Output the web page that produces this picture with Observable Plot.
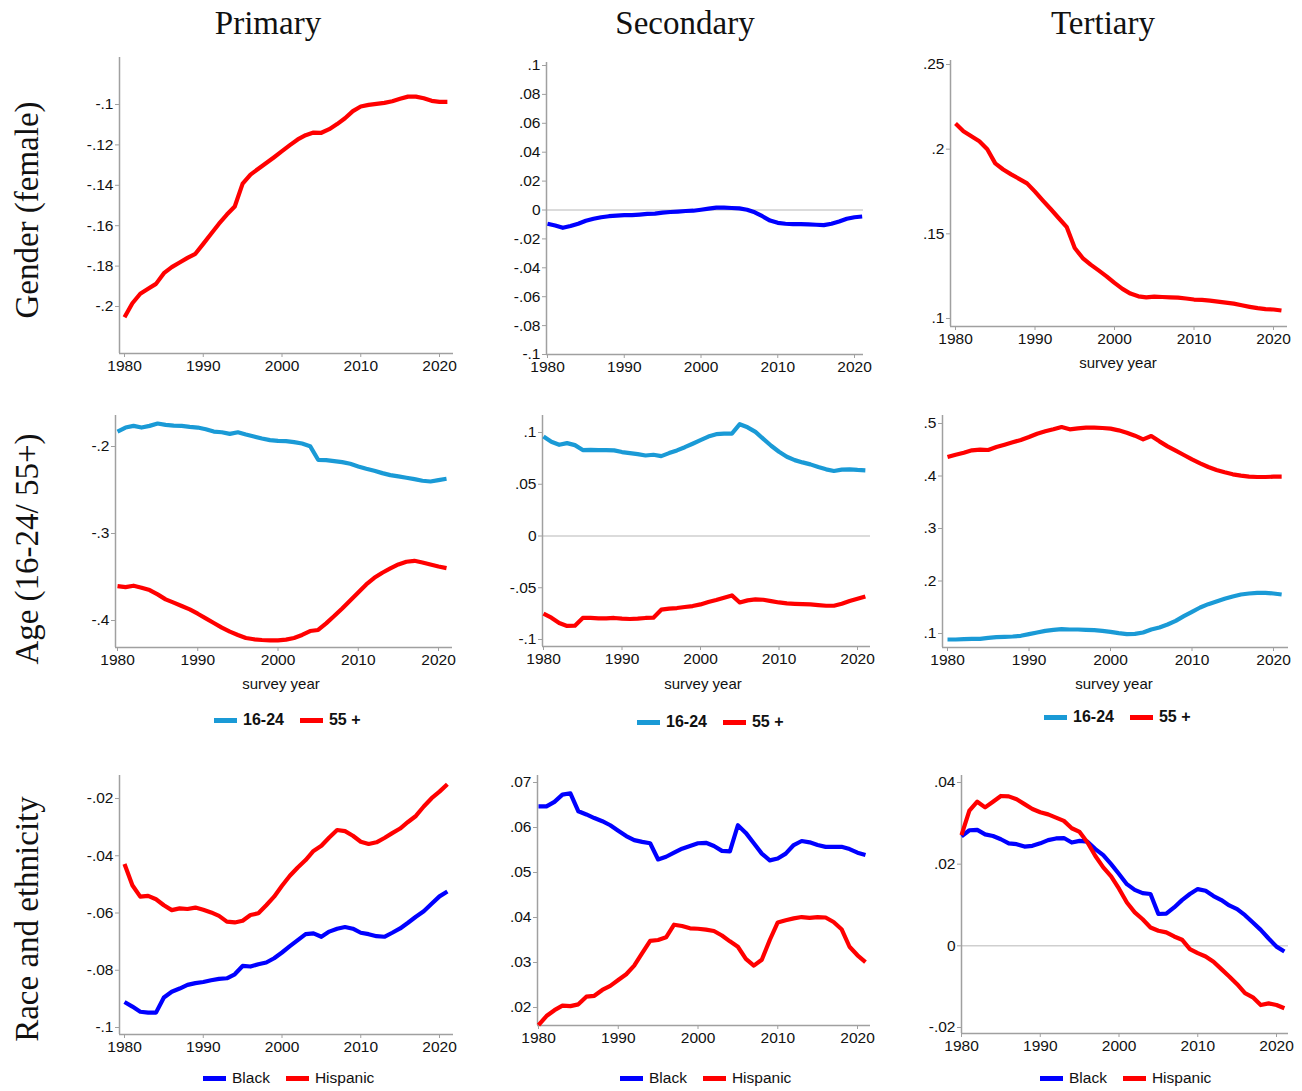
<!DOCTYPE html>
<html><head><meta charset="utf-8">
<script src="https://cdn.jsdelivr.net/npm/d3@7"></script>
<script src="https://cdn.jsdelivr.net/npm/@observablehq/plot@0.6"></script>
<style>
body{margin:0;background:#fff;}
#root{position:relative;width:1302px;height:1091px;overflow:hidden;background:#fff;}
.abs{position:absolute;}
.coltitle{font-family:"Liberation Serif",serif;font-size:33px;color:#111;transform:translateX(-50%);white-space:nowrap;line-height:1;}
.rowtitle{font-family:"Liberation Serif",serif;font-size:33px;color:#111;transform:translate(-50%,-50%) rotate(-90deg);white-space:nowrap;line-height:1;}
.xlab{font-family:"Liberation Sans",sans-serif;font-size:15px;color:#111;transform:translate(-50%,-50%);white-space:nowrap;}
.legend{display:flex;align-items:center;transform:translateY(-50%);white-space:nowrap;font-family:"Liberation Sans",sans-serif;color:#111;}
.legend .sw{display:inline-block;width:23px;height:5px;margin-right:6px;}
.legend .it{display:flex;align-items:center;margin-right:16px;}
.legend.bold{font-weight:bold;font-size:16px;}
.legend.reg{font-size:15.5px;}
</style></head><body><div id="root"></div>
<script>
// ---------- data ----------
const years = [1980,1981,1982,1983,1984,1985,1986,1987,1988,1989,1990,1991,1992,1993,1994,1995,1996,1997,1998,1999,2000,2001,2002,2003,2004,2005,2006,2007,2008,2009,2010,2011,2012,2013,2014,2015,2016,2017,2018,2019,2020,2021];
const columns = ["Primary","Secondary","Tertiary"];
const rows = ["Gender (female)","Age (16-24/ 55+)","Race and ethnicity"];
const xLabel = "survey year";
const yearTicks = [1980,1990,2000,2010,2020];

const genderPrimary = [-0.2053,-0.1984,-0.1937,-0.1912,-0.1888,-0.1835,-0.1805,-0.1782,-0.1759,-0.1739,-0.169,-0.164,-0.159,-0.1545,-0.1505,-0.1392,-0.1347,-0.1318,-0.129,-0.1261,-0.1231,-0.1201,-0.1173,-0.1152,-0.1139,-0.114,-0.1122,-0.1097,-0.1068,-0.1033,-0.101,-0.1002,-0.0997,-0.0992,-0.0984,-0.0972,-0.0961,-0.0961,-0.0969,-0.0982,-0.0987,-0.0987];
const genderSecondary = [-0.0095,-0.0107,-0.0123,-0.0111,-0.0095,-0.0075,-0.0061,-0.005,-0.0043,-0.0039,-0.0036,-0.0036,-0.0032,-0.0027,-0.0025,-0.0018,-0.0014,-0.0011,-0.0007,-0.0005,0.0002,0.0009,0.0016,0.0016,0.0014,0.0011,0.0002,-0.0016,-0.0043,-0.0073,-0.0089,-0.0095,-0.0098,-0.0098,-0.01,-0.0102,-0.0105,-0.0095,-0.008,-0.0061,-0.005,-0.0045];
const genderTertiary = [0.2151,0.2106,0.2076,0.2047,0.2,0.1916,0.188,0.1851,0.1825,0.1798,0.1749,0.1696,0.1645,0.1592,0.1539,0.1416,0.1357,0.1318,0.1284,0.1249,0.121,0.1175,0.1147,0.1131,0.1125,0.1129,0.1127,0.1125,0.1123,0.1118,0.1112,0.111,0.1106,0.11,0.1094,0.1088,0.1078,0.1069,0.1061,0.1055,0.1053,0.1047];

const agePrimaryYoung = [-0.1828,-0.1782,-0.1763,-0.1782,-0.1763,-0.1736,-0.1751,-0.1759,-0.1763,-0.1774,-0.1782,-0.1801,-0.1828,-0.1836,-0.1855,-0.1836,-0.1862,-0.1885,-0.1908,-0.1927,-0.1935,-0.1939,-0.195,-0.1966,-0.1996,-0.2153,-0.2157,-0.2168,-0.218,-0.2199,-0.2229,-0.2256,-0.2279,-0.2306,-0.2329,-0.2344,-0.2359,-0.2375,-0.2394,-0.2402,-0.2386,-0.2371];
const agePrimaryOld = [-0.3604,-0.3616,-0.36,-0.3623,-0.365,-0.37,-0.3757,-0.3795,-0.3834,-0.3872,-0.3922,-0.3975,-0.4029,-0.4082,-0.4128,-0.4166,-0.4201,-0.4216,-0.4224,-0.4228,-0.4228,-0.422,-0.4201,-0.4166,-0.4121,-0.4109,-0.4033,-0.3949,-0.3861,-0.3769,-0.3677,-0.3585,-0.3509,-0.3451,-0.3402,-0.3356,-0.3325,-0.3314,-0.3333,-0.3356,-0.3379,-0.3398];
const ageSecondaryYoung = [0.0961,0.091,0.0881,0.0897,0.0878,0.083,0.0833,0.083,0.083,0.0827,0.0811,0.0801,0.0791,0.0778,0.0785,0.0772,0.0801,0.0827,0.0858,0.0891,0.0926,0.0961,0.0984,0.099,0.099,0.108,0.105,0.1006,0.0939,0.0872,0.0814,0.0766,0.0733,0.0711,0.0692,0.0666,0.0644,0.0628,0.0641,0.0644,0.0638,0.0634];
const ageSecondaryOld = [-0.075,-0.0789,-0.0841,-0.0869,-0.0866,-0.0792,-0.0792,-0.0795,-0.0795,-0.0792,-0.0798,-0.0802,-0.0798,-0.0792,-0.0789,-0.0712,-0.0702,-0.0696,-0.0686,-0.0677,-0.0661,-0.0638,-0.0619,-0.0597,-0.0574,-0.0642,-0.0622,-0.0613,-0.0616,-0.0629,-0.0642,-0.0651,-0.0655,-0.0658,-0.0661,-0.0668,-0.0674,-0.0674,-0.0655,-0.0629,-0.0607,-0.0584];
const ageTertiaryYoung = [0.0886,0.0886,0.0892,0.0898,0.0898,0.0917,0.093,0.0937,0.0943,0.0956,0.0987,0.1019,0.1051,0.107,0.1083,0.1076,0.1076,0.107,0.1063,0.1051,0.1032,0.1006,0.0987,0.0994,0.1019,0.1076,0.1114,0.1171,0.1241,0.133,0.1413,0.1495,0.1559,0.161,0.166,0.1705,0.1743,0.1762,0.1775,0.1775,0.1762,0.1743];
const ageTertiaryOld = [0.4362,0.4406,0.4444,0.4489,0.4502,0.4495,0.4552,0.4597,0.4641,0.4686,0.4743,0.4806,0.4851,0.4889,0.4933,0.4889,0.4908,0.4921,0.4921,0.4914,0.4902,0.487,0.4825,0.4768,0.4698,0.4762,0.466,0.4565,0.4483,0.44,0.4317,0.4241,0.4171,0.4114,0.407,0.4032,0.4006,0.3987,0.3981,0.3981,0.3987,0.3987];

const racePrimaryBlack = [-0.0911,-0.0927,-0.0945,-0.0948,-0.0948,-0.0895,-0.0875,-0.0864,-0.0851,-0.0845,-0.0841,-0.0835,-0.083,-0.0828,-0.0814,-0.0785,-0.0787,-0.0779,-0.0773,-0.0758,-0.0738,-0.0716,-0.0695,-0.0674,-0.0671,-0.0683,-0.0665,-0.0655,-0.0649,-0.0655,-0.0669,-0.0674,-0.0681,-0.0683,-0.0669,-0.0654,-0.0634,-0.0613,-0.0594,-0.0568,-0.0542,-0.0525];
const racePrimaryHispanic = [-0.0429,-0.0503,-0.0543,-0.054,-0.0552,-0.0573,-0.059,-0.0584,-0.0586,-0.0581,-0.0589,-0.0598,-0.061,-0.063,-0.0633,-0.0627,-0.0607,-0.0601,-0.0573,-0.0543,-0.0505,-0.047,-0.0441,-0.0415,-0.0383,-0.0365,-0.0336,-0.031,-0.0314,-0.033,-0.0351,-0.0359,-0.0353,-0.0338,-0.0321,-0.0305,-0.0282,-0.0261,-0.0228,-0.0199,-0.0176,-0.015];
const raceSecondaryBlack = [0.0647,0.0647,0.0657,0.0673,0.0676,0.0636,0.0629,0.0621,0.0614,0.0605,0.0593,0.0581,0.0572,0.0568,0.0565,0.0529,0.0535,0.0544,0.0553,0.0559,0.0565,0.0566,0.0559,0.0548,0.0547,0.0605,0.0588,0.0565,0.0542,0.0527,0.0531,0.0542,0.0561,0.057,0.0567,0.0561,0.0557,0.0557,0.0557,0.0552,0.0544,0.0539];
const raceSecondaryHispanic = [0.0161,0.0181,0.0194,0.0204,0.0203,0.0207,0.0224,0.0226,0.0239,0.0248,0.0261,0.0274,0.0293,0.0321,0.0348,0.035,0.0356,0.0384,0.0381,0.0376,0.0375,0.0373,0.037,0.036,0.0347,0.0335,0.0308,0.0293,0.0306,0.035,0.0389,0.0394,0.0398,0.0401,0.0399,0.0401,0.04,0.039,0.0374,0.0335,0.0316,0.0301];
const raceTertiaryBlack = [0.0268,0.0283,0.0284,0.0273,0.0269,0.0261,0.0251,0.0249,0.0243,0.0245,0.0251,0.0259,0.0263,0.0264,0.0253,0.0257,0.0255,0.0237,0.0222,0.02,0.0176,0.0151,0.0137,0.0129,0.0127,0.0078,0.0079,0.0094,0.0112,0.0127,0.0139,0.0135,0.0122,0.0112,0.0099,0.009,0.0075,0.0057,0.0039,0.0018,-0.0002,-0.0014];
const raceTertiaryHispanic = [0.0271,0.0331,0.0353,0.0339,0.0353,0.0367,0.0366,0.0359,0.0347,0.0335,0.0327,0.0322,0.0314,0.0306,0.0288,0.0279,0.0253,0.022,0.0192,0.017,0.014,0.0106,0.0082,0.0065,0.0045,0.0037,0.0033,0.0023,0.0015,-0.0008,-0.0018,-0.0026,-0.0039,-0.0057,-0.0075,-0.0094,-0.0116,-0.0126,-0.0145,-0.0141,-0.0145,-0.0153];

// y tick labels per panel
const ticksGenderPrimary = [-0.2,-0.18,-0.16,-0.14,-0.12,-0.1];
const ticksGenderSecondary = [-0.1,-0.08,-0.06,-0.04,-0.02,0,0.02,0.04,0.06,0.08,0.1];
const ticksGenderTertiary = [0.1,0.15,0.2,0.25];
const ticksAgePrimary = [-0.4,-0.3,-0.2];
const ticksAgeSecondary = [-0.1,-0.05,0,0.05,0.1];
const ticksAgeTertiary = [0.1,0.2,0.3,0.4,0.5];
const ticksRacePrimary = [-0.1,-0.08,-0.06,-0.04,-0.02];
const ticksRaceSecondary = [0.02,0.03,0.04,0.05,0.06,0.07];
const ticksRaceTertiary = [-0.02,0,0.02,0.04];

const ageSeries = ["16-24","55 +"];
const raceSeries = ["Black","Hispanic"];
const RED = "#ff0000", BLUE = "#0000ff", LTBLUE = "#1a9ad6";
const AXIS = "#a0a0a0";

// ---------- layout ----------
const root = document.getElementById("root");
const fmt = v => { const n = +(+v).toFixed(4); if (n === 0) return "0"; return String(n).replace(/^(-?)0\./, "$1."); };

const panels = [
  {g:{left:119,right:453,top:57,bottom:353,x1980:124,x2020:439,yref:[[-0.1,104],[-0.2,306]]}, ticks:ticksGenderPrimary, zero:false,
   series:[{name:"female", values:genderPrimary, color:RED}]},
  {g:{left:546,right:863,top:62,bottom:354,x1980:547,x2020:854,yref:[[0.1,65],[-0.1,354]]}, ticks:ticksGenderSecondary, zero:true,
   series:[{name:"female", values:genderSecondary, color:BLUE}]},
  {g:{left:950,right:1287,top:60,bottom:326,x1980:955,x2020:1273,yref:[[0.25,64],[0.1,318]]}, ticks:ticksGenderTertiary, zero:false, xlab:[1118,362],
   series:[{name:"female", values:genderTertiary, color:RED}]},
  {g:{left:115,right:452,top:415,bottom:647,x1980:117,x2020:438,yref:[[-0.2,446],[-0.4,620]]}, ticks:ticksAgePrimary, zero:false, xlab:[281,683],
   series:[{name:ageSeries[0], values:agePrimaryYoung, color:LTBLUE},{name:ageSeries[1], values:agePrimaryOld, color:RED}],
   legend:{x:214,y:720,cls:"bold"}},
  {g:{left:542,right:870,top:415,bottom:646,x1980:543,x2020:857,yref:[[0.1,432],[-0.1,639]]}, ticks:ticksAgeSecondary, zero:true, xlab:[703,683],
   series:[{name:ageSeries[0], values:ageSecondaryYoung, color:LTBLUE},{name:ageSeries[1], values:ageSecondaryOld, color:RED}],
   legend:{x:637,y:722,cls:"bold"}},
  {g:{left:942,right:1288,top:415,bottom:647,x1980:947,x2020:1273,yref:[[0.5,423],[0.1,633]]}, ticks:ticksAgeTertiary, zero:false, xlab:[1114,683],
   series:[{name:ageSeries[0], values:ageTertiaryYoung, color:LTBLUE},{name:ageSeries[1], values:ageTertiaryOld, color:RED}],
   legend:{x:1044,y:717,cls:"bold"}},
  {g:{left:119,right:453,top:775,bottom:1034,x1980:124,x2020:439,yref:[[-0.02,798],[-0.1,1027]]}, ticks:ticksRacePrimary, zero:false,
   series:[{name:raceSeries[0], values:racePrimaryBlack, color:BLUE},{name:raceSeries[1], values:racePrimaryHispanic, color:RED}],
   legend:{x:203,y:1078,cls:"reg"}},
  {g:{left:537,right:870,top:775,bottom:1025,x1980:538,x2020:857,yref:[[0.07,782],[0.02,1007]]}, ticks:ticksRaceSecondary, zero:false,
   series:[{name:raceSeries[0], values:raceSecondaryBlack, color:BLUE},{name:raceSeries[1], values:raceSecondaryHispanic, color:RED}],
   legend:{x:620,y:1078,cls:"reg"}},
  {g:{left:961,right:1288,top:775,bottom:1033,x1980:961,x2020:1276,yref:[[0.04,782],[-0.02,1027]]}, ticks:ticksRaceTertiary, zero:true,
   series:[{name:raceSeries[0], values:raceTertiaryBlack, color:BLUE},{name:raceSeries[1], values:raceTertiaryHispanic, color:RED}],
   legend:{x:1040,y:1078,cls:"reg"}}
];

function drawPanel(p) {
  const g = p.g;
  const mL = 60, mR = 12, mT = 12, mB = 30;
  const width = g.right - g.left + mL + mR;
  const height = g.bottom - g.top + mT + mB;
  const ppy = (g.x2020 - g.x1980) / 40;
  const xd = [1980 + (g.left - g.x1980) / ppy, 2020 + (g.right - g.x2020) / ppy];
  const [[v1, p1], [v2, p2]] = g.yref;
  const s = (v2 - v1) / (p2 - p1);
  const yd = [v1 + (g.bottom - p1) * s, v1 + (g.top - p1) * s];
  const data = p.series.flatMap(se => se.values.map((v, i) => ({year: years[i], value: v, series: se.name, color: se.color})));
  const marks = [];
  if (p.zero) marks.push(Plot.ruleY([0], {stroke: "#cfcfcf", strokeWidth: 1.5}));
  // axis lines along the left and bottom edges of the scale domains
  marks.push(Plot.ruleX([xd[0]], {stroke: AXIS, strokeWidth: 1.5}));
  marks.push(Plot.ruleY([yd[0]], {stroke: AXIS, strokeWidth: 1.5}));
  marks.push(Plot.axisY({ticks: p.ticks, tickFormat: fmt, tickSize: 4, tickPadding: 2, stroke: AXIS, fill: "#111", label: null}));
  marks.push(Plot.axisX({ticks: yearTicks, tickFormat: d => String(d), tickSize: 4, tickPadding: 2, stroke: AXIS, fill: "#111", label: null}));
  marks.push(Plot.line(data, {x: "year", y: "value", z: "series", stroke: "color", strokeWidth: 4.2, strokeLinejoin: "round", strokeLinecap: "butt"}));
  const svg = Plot.plot({
    width, height, marginLeft: mL, marginRight: mR, marginTop: mT, marginBottom: mB,
    x: {domain: xd}, y: {domain: yd},
    style: {fontFamily: "'Liberation Sans',sans-serif", fontSize: "15.5px", background: "transparent", overflow: "visible"},
    marks
  });
  svg.style.position = "absolute";
  svg.style.left = (g.left - mL) + "px";
  svg.style.top = (g.top - mT) + "px";
  root.appendChild(svg);

  if (p.xlab) {
    const d = document.createElement("div");
    d.className = "abs xlab";
    d.style.left = p.xlab[0] + "px"; d.style.top = p.xlab[1] + "px";
    d.textContent = xLabel;
    root.appendChild(d);
  }
  if (p.legend) {
    const L = document.createElement("div");
    L.className = "abs legend " + p.legend.cls;
    L.style.left = p.legend.x + "px"; L.style.top = p.legend.y + "px";
    p.series.forEach(se => {
      const it = document.createElement("span"); it.className = "it";
      const sw = document.createElement("span"); sw.className = "sw"; sw.style.background = se.color;
      const tx = document.createElement("span"); tx.textContent = se.name;
      it.appendChild(sw); it.appendChild(tx); L.appendChild(it);
    });
    root.appendChild(L);
  }
}
panels.forEach(drawPanel);

// column and row titles
const colX = [268, 685, 1103];
columns.forEach((c, i) => {
  const d = document.createElement("div");
  d.className = "abs coltitle"; d.style.left = colX[i] + "px"; d.style.top = "7px";
  d.textContent = c; root.appendChild(d);
});
const rowY = [210, 549, 919];
rows.forEach((r, i) => {
  const d = document.createElement("div");
  d.className = "abs rowtitle"; d.style.left = "27px"; d.style.top = rowY[i] + "px";
  d.textContent = r; root.appendChild(d);
});
</script></body></html>
